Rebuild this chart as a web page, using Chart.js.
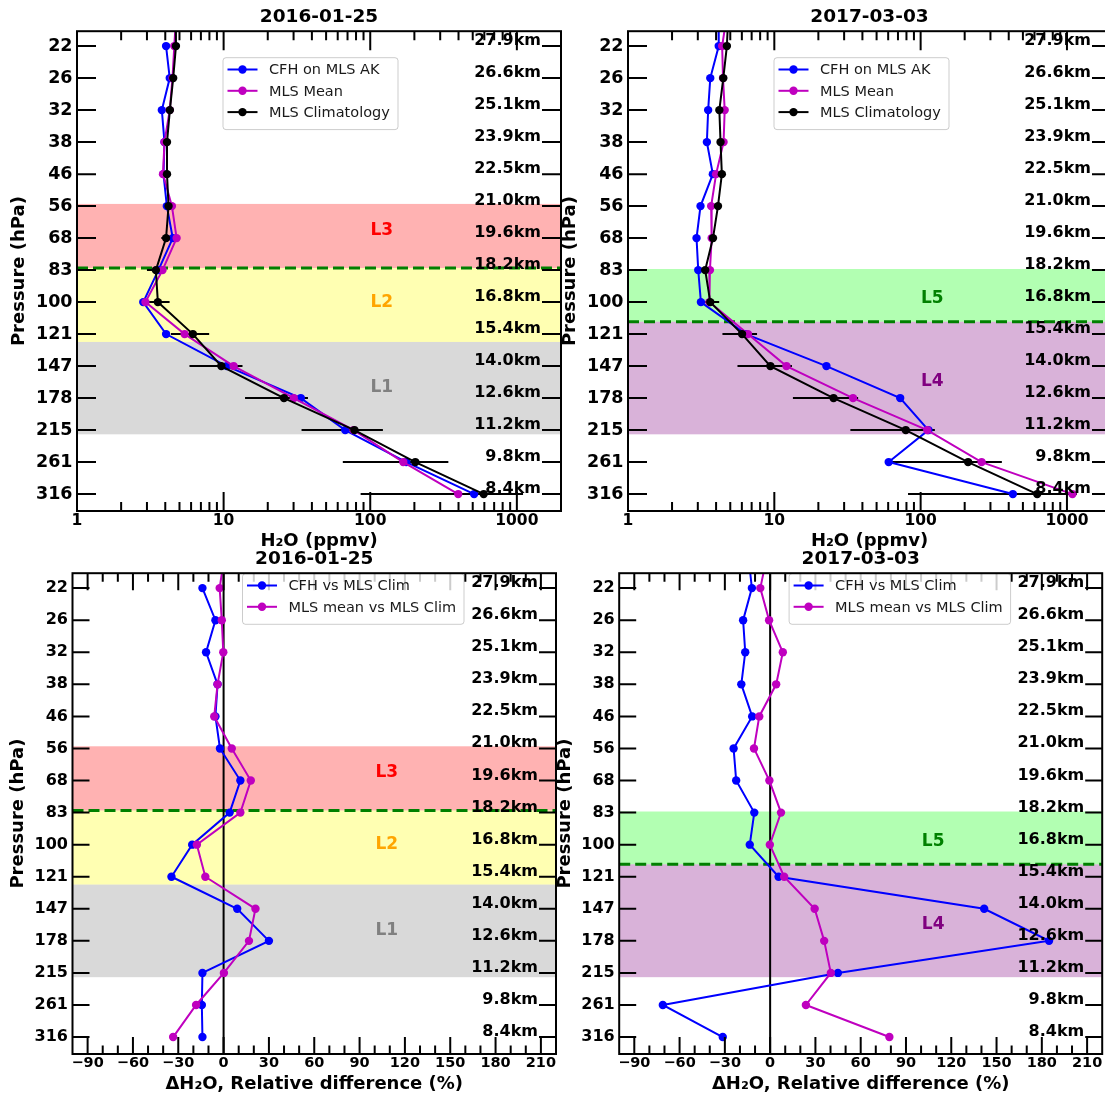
<!DOCTYPE html>
<html>
<head>
<meta charset="utf-8">
<title>CFH / MLS water vapour profiles</title>
<script src="https://cdn.jsdelivr.net/npm/chart.js@4.4.1/dist/chart.umd.min.js"></script>
<style>
    html, body { margin: 0; padding: 0; background: #fff; overflow: hidden; }
    body { position: relative; width: 1105px; height: 1098px; }
    canvas { position: absolute; }
</style>
</head>
<body>
<canvas id="h2o2016" width="600" height="555" style="left:0px;top:0px"></canvas>
<canvas id="h2o2017" width="600" height="555" style="left:551px;top:0px"></canvas>
<canvas id="diff2016" width="600" height="556" style="left:-1px;top:542px"></canvas>
<canvas id="diff2017" width="600" height="556" style="left:546px;top:542px"></canvas>
<script>
// MLS pressure levels (hPa), the first one lies just above the plotted range
const pressure = [17.78, 21.54, 26.10, 31.62, 38.31, 46.42, 56.23, 68.13, 82.54, 100.0, 121.15, 146.78, 177.83, 215.44, 261.02, 316.23]
const pressureLabels = ['22', '26', '32', '38', '46', '56', '68', '83', '100', '121', '147', '178', '215', '261', '316']
const altitudeLabels = ['27.9km', '26.6km', '25.1km', '23.9km', '22.5km', '21.0km', '19.6km', '18.2km', '16.8km', '15.4km', '14.0km', '12.6km', '11.2km', '9.8km', '8.4km']
const h2oTicks = [1, 10, 100, 1000]
const diffTicks = [-90, -60, -30, 0, 30, 60, 90, 120, 150, 180, 210]

// 2016-01-25 profiles, H2O in ppmv
const cfh2016 = [null, 4.05, 4.29, 3.79, 3.95, 3.89, 4.10, 4.50, 3.59, 2.83, 4.05, 10.5, 33.6, 67.5, 176, 511]
const mlsMean2016 = [4.75, 4.61, 4.48, 4.29, 3.95, 3.86, 4.44, 4.78, 3.83, 2.93, 5.42, 11.7, 30.1, 77.0, 168, 398]
const mlsClim2016 = [4.70, 4.73, 4.53, 4.30, 4.11, 4.11, 4.21, 4.05, 3.45, 3.56, 6.17, 9.65, 25.8, 78.0, 203, 594]
const mlsClimSd2016 = [0.15, 0.15, 0.12, 0.12, 0.12, 0.12, 0.15, 0.29, 0.45, 0.72, 1.8, 3.8, 11.8, 44, 138, 508]

// 2017-03-03 profiles, H2O in ppmv
const cfh2017 = [4.15, 4.17, 3.65, 3.53, 3.46, 3.80, 3.13, 2.94, 3.02, 3.15, 6.4, 22.7, 72.5, 113, 60.5, 427]
const mlsMean2017 = [4.75, 4.40, 4.46, 4.58, 4.50, 4.00, 3.70, 3.73, 3.63, 3.60, 6.6, 12.1, 34.5, 111, 261, 1090]
const mlsClim2017 = [4.85, 4.74, 4.48, 4.21, 4.29, 4.38, 4.12, 3.81, 3.37, 3.65, 6.02, 9.4, 25.4, 79.1, 211, 626]
const mlsClimSd2017 = [0.15, 0.15, 0.12, 0.12, 0.12, 0.12, 0.15, 0.25, 0.30, 0.55, 1.6, 3.8, 12, 46, 148, 544]

// relative differences to the MLS climatology (%)
const dCfh2016 = [null, -14.0, -5.4, -11.6, -4.0, -5.4, -2.4, 11.1, 4.0, -20.8, -34.5, 9.0, 30.0, -14.0, -14.4, -14.0]
const dMls2016 = [0.5, -2.6, -1.2, -0.2, -4.0, -6.2, 5.4, 18.0, 11.1, -17.7, -12.1, 21.1, 16.8, 0.2, -18.2, -33.4]
const dCfh2017 = [-14.4, -12.1, -17.9, -16.5, -19.1, -11.9, -24.2, -22.5, -10.5, -13.5, 5.6, 141.8, 184.8, 44.9, -71.1, -31.4]
const dMls2017 = [-2.1, -6.5, -0.7, 8.4, 4.0, -7.2, -10.7, -0.5, 7.2, -0.2, 9.3, 29.5, 35.8, 40.2, 23.7, 79.0]

// layers (hPa), where their names sit, and tropopause
const layerNames2016 = ['L3', 'L2', 'L1']
const layerTop2016 = [55.5, 81.5, 127]
const layerBottom2016 = [81.5, 127, 221]
const layerNameAt2016 = [65, 100, 167]
const tropopause2016 = 81.5
const layerNames2017 = ['L5', 'L4']
const layerTop2017 = [82, 112.5]
const layerBottom2017 = [112.5, 221]
const layerNameAt2017 = [98, 161]
const tropopause2017 = 112.5

Chart.defaults.font.family = "'DejaVu Sans', sans-serif"
Chart.defaults.color = '#000'

const BLUE = '#0000ff'
const MAGENTA = '#bf00bf'
const BLACK = '#000000'

const layerStyle = {
    L1: { fill: 'rgba(128,128,128,0.3)', text: '#808080' },
    L2: { fill: 'rgba(255,255,0,0.3)', text: '#ffa500' },
    L3: { fill: 'rgba(255,0,0,0.3)', text: '#ff0000' },
    L4: { fill: 'rgba(128,0,128,0.3)', text: '#800080' },
    L5: { fill: 'rgba(0,255,0,0.3)', text: '#008000' }
}

function points(values) {
    return pressure.map((p, i) => ({ x: values[i], y: p })).filter(d => d.x !== null)
}

// draws the frame, inward ticks, km labels, layers, error bars and legend
function panelDecor(cfg) {
    return {
        id: 'panelDecor',
        beforeDatasetsDraw(chart) {
            const { ctx, chartArea: a } = chart
            const xs = chart.scales.x, ys = chart.scales.y
            ctx.save()
            ctx.beginPath()
            ctx.rect(a.left, a.top, a.width, a.height)
            ctx.clip()
            cfg.layerNames.forEach(function (name, i) {
                const y1 = ys.getPixelForValue(cfg.layerTop[i])
                const y2 = ys.getPixelForValue(cfg.layerBottom[i])
                ctx.fillStyle = layerStyle[name].fill
                ctx.fillRect(a.left, y1, a.width, y2 - y1)
            })
            // tropopause
            const ty = ys.getPixelForValue(cfg.tropopause)
            ctx.strokeStyle = '#008000'
            ctx.lineWidth = 3
            ctx.setLineDash([11, 5])
            ctx.beginPath()
            ctx.moveTo(a.left, ty)
            ctx.lineTo(a.right, ty)
            ctx.stroke()
            ctx.setLineDash([])
            if (cfg.kind === 'diff') {
                const zx = xs.getPixelForValue(0)
                ctx.strokeStyle = BLACK
                ctx.lineWidth = 2
                ctx.beginPath()
                ctx.moveTo(zx, a.top)
                ctx.lineTo(zx, a.bottom)
                ctx.stroke()
            }
            if (cfg.clim) {
                ctx.strokeStyle = BLACK
                ctx.lineWidth = 2
                pressure.forEach(function (p, i) {
                    const lo = Math.max(cfg.clim[i] - cfg.climSd[i], 0.01)
                    const hi = cfg.clim[i] + cfg.climSd[i]
                    const py = ys.getPixelForValue(p)
                    ctx.beginPath()
                    ctx.moveTo(xs.getPixelForValue(lo), py)
                    ctx.lineTo(xs.getPixelForValue(hi), py)
                    ctx.stroke()
                })
            }
            ctx.restore()
        },
        afterDatasetsDraw(chart) {
            const { ctx, chartArea: a } = chart
            const xs = chart.scales.x, ys = chart.scales.y
            const major = cfg.tickLen[0], minor = cfg.tickLen[1]
            ctx.save()
            ctx.strokeStyle = BLACK
            ctx.lineWidth = 2

            // x ticks, bottom and top, pointing inward
            const xt = []
            if (cfg.kind === 'h2o') {
                for (let d = 1; d <= 1000; d *= 10) {
                    for (let k = 1; k <= 9; k++) {
                        if (k * d <= xs.max) xt.push([k * d, k === 1])
                    }
                }
            } else {
                for (let v = -90; v <= 210; v += 10) xt.push([v, diffTicks.includes(v)])
            }
            xt.forEach(function (t) {
                const px = xs.getPixelForValue(t[0])
                const len = t[1] ? major : minor
                ctx.beginPath()
                ctx.moveTo(px, a.bottom)
                ctx.lineTo(px, a.bottom - len)
                ctx.moveTo(px, a.top)
                ctx.lineTo(px, a.top + len)
                ctx.stroke()
            })

            // y ticks left and right, km labels
            ctx.font = 'bold 16px "DejaVu Sans"'
            ctx.fillStyle = BLACK
            ctx.textAlign = 'right'
            ctx.textBaseline = 'alphabetic'
            pressure.slice(1).forEach(function (p, i) {
                const py = ys.getPixelForValue(p)
                ctx.beginPath()
                ctx.moveTo(a.left, py)
                ctx.lineTo(a.left + major, py)
                ctx.moveTo(a.right, py)
                ctx.lineTo(a.right - major, py)
                ctx.stroke()
                ctx.fillText(altitudeLabels[i], a.right - major - 1, py - 1)
            })

            // layer names
            ctx.font = 'bold 17px "DejaVu Sans"'
            ctx.textAlign = 'center'
            ctx.textBaseline = 'middle'
            cfg.layerNames.forEach(function (name, i) {
                ctx.fillStyle = layerStyle[name].text
                ctx.fillText(name, xs.getPixelForValue(cfg.labelX), ys.getPixelForValue(cfg.layerNameAt[i]))
            })

            // legend
            const bx = a.left + cfg.legend.dx, by = a.top + cfg.legend.dy
            const bh = 8 + cfg.series.length * 21.3
            ctx.fillStyle = 'rgba(255,255,255,0.8)'
            ctx.strokeStyle = 'rgba(0,0,0,0.2)'
            ctx.lineWidth = 1
            ctx.beginPath()
            ctx.roundRect(bx + 0.5, by + 0.5, cfg.legend.w, bh, 3)
            ctx.fill()
            ctx.stroke()
            ctx.font = '14.5px "DejaVu Sans"'
            ctx.textAlign = 'left'
            cfg.series.forEach(function (s, i) {
                const ry = by + 12.3 + i * 21.3
                ctx.strokeStyle = s.color
                ctx.fillStyle = s.color
                ctx.lineWidth = 2
                ctx.beginPath()
                ctx.moveTo(bx + 5, ry)
                ctx.lineTo(bx + 35, ry)
                ctx.stroke()
                ctx.beginPath()
                ctx.arc(bx + 20, ry, 4.2, 0, Math.PI * 2)
                ctx.fill()
                ctx.fillStyle = '#1a1a1a'
                ctx.fillText(s.label, bx + 46.5, ry + 1)
            })

            // frame
            ctx.strokeStyle = BLACK
            ctx.lineWidth = 2
            ctx.strokeRect(a.left, a.top, a.width, a.height)
            ctx.restore()
        }
    }
}

function makePanel(cfg) {
    const top = cfg.kind === 'h2o'
    const datasets = cfg.series.slice().reverse().map(s => ({
        label: s.label,
        data: points(s.values),
        borderColor: s.color,
        backgroundColor: s.color,
        borderWidth: 2,
        pointRadius: 4.2,
        pointHoverRadius: 4.2,
        pointBorderWidth: 0,
        showLine: true,
        fill: false
    }))
    const xScale = top ? {
        type: 'logarithmic', min: 1, max: 2000,
        afterBuildTicks: s => { s.ticks = h2oTicks.map(v => ({ value: v })) },
        ticks: { callback: v => String(v), font: { size: 15.5, weight: 'bold' }, padding: 1, autoSkip: false, maxRotation: 0 },
        title: { display: true, text: 'H₂O (ppmv)', font: { size: 18, weight: 'bold' }, padding: { top: 0, bottom: 3 } }
    } : {
        type: 'linear', min: -100, max: 220,
        afterBuildTicks: s => { s.ticks = diffTicks.map(v => ({ value: v })) },
        ticks: { callback: v => (v < 0 ? '\u2212' + Math.abs(v) : String(v)), font: { size: 14.5, weight: 'bold' }, padding: 1, autoSkip: false, maxRotation: 0 },
        title: { display: true, text: 'ΔH₂O, Relative difference (%)', font: { size: 18, weight: 'bold' }, padding: { top: 0, bottom: 3 } }
    }
    xScale.grid = { display: false, drawTicks: false }
    xScale.border = { display: false }
    xScale.afterFit = s => { s.height = 44 }

    new Chart(document.getElementById(cfg.canvas), {
        type: 'scatter',
        data: { datasets: datasets },
        options: {
            responsive: false,
            animation: false,
            events: [],
            layout: { padding: { left: 0, top: 0, bottom: 0, right: cfg.padRight } },
            scales: {
                x: xScale,
                y: {
                    type: 'logarithmic', reverse: true, min: 19.7, max: 350,
                    afterBuildTicks: s => { s.ticks = pressure.slice(1).map(v => ({ value: v })) },
                    ticks: { callback: (v, i) => pressureLabels[i], font: { size: top ? 17.5 : 16, weight: 'bold' }, padding: 4.5, autoSkip: false },
                    grid: { display: false, drawTicks: false },
                    border: { display: false },
                    title: { display: true, text: 'Pressure (hPa)', font: { size: 18, weight: 'bold' }, padding: { top: 9, bottom: 0 } },
                    afterFit: s => { s.width = cfg.yWidth }
                }
            },
            plugins: {
                legend: { display: false },
                tooltip: { enabled: false },
                title: { display: true, fullSize: false, text: cfg.title, font: { size: 18.5, weight: 'bold' }, padding: { top: 6, bottom: 3 }, color: '#000' }
            }
        },
        plugins: [panelDecor(cfg)]
    })
}

makePanel({
    canvas: 'h2o2016', title: '2016-01-25', kind: 'h2o', yWidth: 77, padRight: 39, tickLen: [19, 9],
    series: [
        { label: 'CFH on MLS AK', values: cfh2016, color: BLUE },
        { label: 'MLS Mean', values: mlsMean2016, color: MAGENTA },
        { label: 'MLS Climatology', values: mlsClim2016, color: BLACK }
    ],
    clim: mlsClim2016, climSd: mlsClimSd2016,
    layerNames: layerNames2016, layerTop: layerTop2016, layerBottom: layerBottom2016, layerNameAt: layerNameAt2016,
    tropopause: tropopause2016, labelX: 120, legend: { dx: 145.5, dy: 26, w: 175 }
})

makePanel({
    canvas: 'h2o2017', title: '2017-03-03', kind: 'h2o', yWidth: 77, padRight: 40, tickLen: [19, 9],
    series: [
        { label: 'CFH on MLS AK', values: cfh2017, color: BLUE },
        { label: 'MLS Mean', values: mlsMean2017, color: MAGENTA },
        { label: 'MLS Climatology', values: mlsClim2017, color: BLACK }
    ],
    clim: mlsClim2017, climSd: mlsClimSd2017,
    layerNames: layerNames2017, layerTop: layerTop2017, layerBottom: layerBottom2017, layerNameAt: layerNameAt2017,
    tropopause: tropopause2017, labelX: 120, legend: { dx: 145.5, dy: 26, w: 175 }
})

makePanel({
    canvas: 'diff2016', title: '2016-01-25', kind: 'diff', yWidth: 73.5, padRight: 43, tickLen: [17, 8.5],
    series: [
        { label: 'CFH vs MLS Clim', values: dCfh2016, color: BLUE },
        { label: 'MLS mean vs MLS Clim', values: dMls2016, color: MAGENTA }
    ],
    layerNames: layerNames2016, layerTop: layerTop2016, layerBottom: layerBottom2016, layerNameAt: layerNameAt2016,
    tropopause: tropopause2016, labelX: 108, legend: { dx: 169.5, dy: 0, w: 221.5 }
})

makePanel({
    canvas: 'diff2017', title: '2017-03-03', kind: 'diff', yWidth: 73.2, padRight: 43.8, tickLen: [17, 8.5],
    series: [
        { label: 'CFH vs MLS Clim', values: dCfh2017, color: BLUE },
        { label: 'MLS mean vs MLS Clim', values: dMls2017, color: MAGENTA }
    ],
    layerNames: layerNames2017, layerTop: layerTop2017, layerBottom: layerBottom2017, layerNameAt: layerNameAt2017,
    tropopause: tropopause2017, labelX: 108, legend: { dx: 169.4, dy: 0, w: 221.5 }
})
</script>
</body>
</html>
